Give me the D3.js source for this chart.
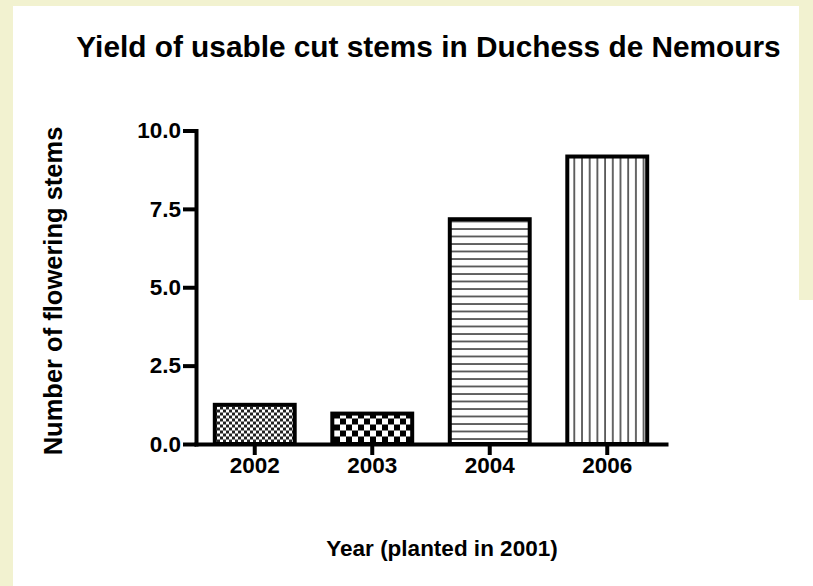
<!DOCTYPE html>
<html>
<head>
<meta charset="utf-8">
<script src="https://cdn.jsdelivr.net/npm/d3@7"></script>
<style>
  body { margin: 0; background: #fff; }
  text { font-family: "Liberation Sans", Arial, sans-serif; font-weight: bold; fill: #000; }
</style>
</head>
<body>
<div id="chart"></div>
<script>
// chart data
var years = ["2002", "2003", "2004", "2006"];
var stems = [1.25, 0.97, 7.17, 9.17];
var patterns = ["fineCheck", "bigCheck", "hLines", "vLines"];
var yTicks = [0, 2.5, 5, 7.5, 10];

var W = 813, H = 586;
var margin = {top: 130.5, right: 147, bottom: 142, left: 196};
var width = W - margin.left - margin.right;
var height = H - margin.top - margin.bottom;

var svg = d3.select("#chart").append("svg")
    .attr("width", W)
    .attr("height", H);

// page frame
svg.append("rect").attr("width", W).attr("height", H).attr("fill", "#f2f2d0");
svg.append("rect").attr("x", 13).attr("y", 6).attr("width", W - 13).attr("height", H - 6).attr("fill", "#fff");
svg.append("rect").attr("x", 799).attr("y", 0).attr("width", W - 799).attr("height", 300).attr("fill", "#f2f2d0");

// fill patterns
var defs = svg.append("defs");

var p1 = defs.append("pattern").attr("id", "fineCheck")
    .attr("patternUnits", "userSpaceOnUse").attr("width", 6).attr("height", 6);
p1.append("rect").attr("width", 6).attr("height", 6).attr("fill", "#fff");
p1.append("rect").attr("width", 3).attr("height", 3).attr("fill", "#222");
p1.append("rect").attr("x", 3).attr("y", 3).attr("width", 3).attr("height", 3).attr("fill", "#222");

var p2 = defs.append("pattern").attr("id", "bigCheck")
    .attr("patternUnits", "userSpaceOnUse").attr("width", 12).attr("height", 12);
p2.append("rect").attr("width", 12).attr("height", 12).attr("fill", "#fff");
p2.append("rect").attr("width", 6).attr("height", 6).attr("fill", "#000");
p2.append("rect").attr("x", 6).attr("y", 6).attr("width", 6).attr("height", 6).attr("fill", "#000");

var p3 = defs.append("pattern").attr("id", "hLines")
    .attr("patternUnits", "userSpaceOnUse").attr("width", 10).attr("height", 7.5);
p3.append("rect").attr("width", 10).attr("height", 7.5).attr("fill", "#fff");
p3.append("line").attr("x1", 0).attr("x2", 10).attr("y1", 1).attr("y2", 1)
    .attr("stroke", "#333").attr("stroke-width", 1.5);

var p4 = defs.append("pattern").attr("id", "vLines")
    .attr("patternUnits", "userSpaceOnUse").attr("width", 7.7).attr("height", 10);
p4.append("rect").attr("width", 7.7).attr("height", 10).attr("fill", "#fff");
p4.append("line").attr("x1", 1).attr("x2", 1).attr("y1", 0).attr("y2", 10)
    .attr("stroke", "#333").attr("stroke-width", 1.5);

var g = svg.append("g")
    .attr("transform", "translate(" + margin.left + "," + margin.top + ")");

var x = d3.scaleBand()
    .domain(years)
    .range([0, width])
    .paddingInner(0.32)
    .paddingOuter(0.16);

var y = d3.scaleLinear()
    .domain([0, 10])
    .range([height, 0]);

// bars
g.selectAll("rect.bar")
    .data(years)
    .enter().append("rect")
    .attr("class", "bar")
    .attr("x", function(d) { return x(d); })
    .attr("width", x.bandwidth())
    .attr("y", function(d, i) { return y(stems[i]); })
    .attr("height", function(d, i) { return height - y(stems[i]); })
    .attr("fill", function(d, i) { return "url(#" + patterns[i] + ")"; })
    .attr("stroke", "#000")
    .attr("stroke-width", 4);

// axes
var yAxis = g.append("g")
    .call(d3.axisLeft(y).tickValues(yTicks).tickFormat(d3.format(".1f"))
        .tickSize(13).tickSizeOuter(0).tickPadding(2));

var xAxis = g.append("g")
    .attr("transform", "translate(0," + height + ")")
    .call(d3.axisBottom(x).tickSize(11).tickSizeOuter(0).tickPadding(2));

[yAxis, xAxis].forEach(function(a) {
    a.attr("font-size", null).attr("font-family", null);
    a.select(".domain").attr("stroke", "#000").attr("stroke-width", 4).attr("stroke-linecap", "square");
    a.selectAll(".tick line").attr("stroke", "#000").attr("stroke-width", 4);
    a.selectAll(".tick text").attr("fill", "#000").style("font-size", "22.5px");
});

// titles
svg.append("text")
    .attr("x", 428.5).attr("y", 56.5)
    .attr("text-anchor", "middle")
    .style("font-size", "29.8px")
    .text("Yield of usable cut stems in Duchess de Nemours");

svg.append("text")
    .attr("x", 442).attr("y", 556)
    .attr("text-anchor", "middle")
    .style("font-size", "22.5px")
    .text("Year (planted in 2001)");

svg.append("text")
    .attr("transform", "translate(62,291) rotate(-90)")
    .attr("text-anchor", "middle")
    .style("font-size", "25.5px")
    .text("Number of flowering stems");
</script>
</body>
</html>
